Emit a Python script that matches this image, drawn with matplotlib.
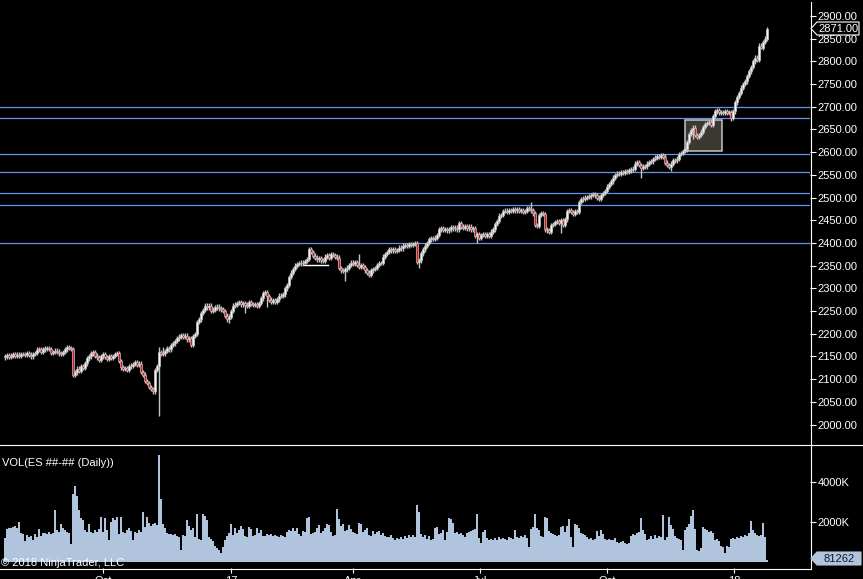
import numpy as np
import matplotlib
matplotlib.use('Agg')
import matplotlib.pyplot as plt
from matplotlib.patches import Rectangle, Polygon
from matplotlib.lines import Line2D

# Output size in pixels (figure is 100 dpi)
W, H = 863, 579
plt.rcParams['font.family'] = ['Liberation Sans', 'DejaVu Sans']

# Daily closes, one per bar (left to right)
closes = [
    # Aug - Sep 2016
    2150, 2153, 2149, 2152, 2155, 2151, 2154, 2152, 2156, 2155,
    2153, 2157, 2154, 2150, 2155, 2158, 2165, 2167, 2160, 2166,
    2168, 2169, 2167, 2158, 2160, 2163, 2161, 2157, 2155, 2160,
    2166, 2170, 2169, 2167, 2110,
    # Sep - Nov 2016
    2115, 2123, 2119, 2128, 2125, 2135, 2146, 2150, 2157, 2159,
    2152, 2148, 2142, 2150, 2155, 2149, 2145, 2150, 2147, 2151,
    2155, 2158, 2140, 2126, 2122, 2124, 2121, 2128, 2130, 2133,
    2137, 2132, 2134, 2116, 2110, 2096, 2092, 2083, 2078, 2073,
    # Nov 2016 - Jan 2017
    2120, 2128, 2160, 2155, 2157, 2162, 2168, 2166, 2175, 2179,
    2184, 2190, 2194, 2197, 2193, 2196, 2188, 2190, 2176, 2195,
    2200, 2226, 2232, 2246, 2252, 2262, 2258, 2262, 2250, 2253,
    2258, 2260, 2256, 2254, 2250, 2240, 2232, 2238, 2250,
    # Jan - Mar 2017
    2262, 2264, 2268, 2270, 2265, 2268, 2264, 2262, 2269, 2266,
    2263, 2265, 2261, 2268, 2278, 2290, 2292, 2283, 2275, 2271,
    2274, 2270, 2276, 2284, 2283, 2287, 2300, 2307, 2325, 2335,
    2343, 2350, 2354, 2355, 2357, 2356, 2360, 2365, 2387,
    # Mar - Apr 2017
    2380, 2372, 2368, 2364, 2367, 2362, 2360, 2370, 2373, 2368,
    2376, 2374, 2370, 2368, 2345, 2340, 2338, 2342, 2346, 2352,
    2357, 2354, 2358, 2352, 2348, 2352, 2347, 2340, 2335, 2330,
    2340, 2343, 2345, 2352, 2356, 2356, 2370, 2376, 2380, 2386,
    # May - Jun 2017
    2384, 2386, 2382, 2385, 2390, 2388, 2394, 2396, 2393, 2397,
    2396, 2398, 2400, 2358, 2362, 2377, 2386, 2394, 2400, 2408,
    2410, 2409, 2412, 2418, 2430, 2432, 2429, 2431, 2428, 2430,
    2435, 2432, 2434, 2430, 2444, 2436, 2433, 2437, 2432, 2436,
    # Jun - Aug 2017
    2430, 2433, 2415, 2420, 2411, 2418, 2420, 2416, 2419, 2415,
    2425, 2430, 2442, 2448, 2460, 2462, 2470, 2471, 2468, 2472,
    2470, 2474, 2472, 2475, 2470, 2473, 2468, 2470, 2476, 2475,
    2472, 2465, 2440, 2438, 2462, 2466, 2464, 2430, 2428, 2424,
    # Aug - Oct 2017
    2440, 2442, 2446, 2448, 2444, 2450, 2440, 2452, 2470, 2472,
    2468, 2464, 2470, 2468, 2490, 2496, 2498, 2500, 2501, 2503,
    2506, 2508, 2505, 2500, 2498, 2506, 2510, 2515, 2524, 2530,
    2536, 2544, 2550, 2553, 2552, 2556, 2555, 2558, 2556, 2560,
    # Oct - Dec 2017
    2562, 2564, 2575, 2578, 2572, 2566, 2568, 2569, 2575, 2578,
    2580, 2585, 2588, 2592, 2589, 2593, 2590, 2577, 2572, 2568,
    2575, 2583, 2582, 2586, 2596, 2598, 2603, 2606, 2622, 2640,
    2648, 2654, 2638, 2633, 2638, 2645, 2655, 2662, 2664, 2666,
    # Dec 2017 - Jan 2018
    2660, 2680, 2690, 2693, 2688, 2689, 2687, 2690, 2686, 2688,
    2676, 2690, 2710, 2722, 2730, 2742, 2750, 2756, 2768, 2778,
    2788, 2800, 2808, 2804, 2835, 2830, 2843, 2850, 2871,
]
first_open = 2148

# Daily volume in thousands of contracts
volumes_k = [
    1200, 1650, 1700, 1700, 1750, 1800, 1700, 2000, 1450, 1400,
    1050, 1350, 1250, 1300, 1100, 1400, 1250, 1650, 1300, 1450,
    1450, 1400, 1500, 1400, 1450, 2600, 1600, 1500, 1900, 1700,
    1600, 1500, 1450, 900, 3400, 3800, 3300, 2600, 2200, 2100,
    1600, 1500, 1900, 1500, 1450, 1600, 1500, 1650, 2250, 1500,
    2200, 1600, 1100, 2000, 2200, 2100, 2250, 1400, 2250, 1500,
    1450, 1600, 1700, 1550, 1100, 1500, 1450, 1600, 1500, 2500,
    1750, 2250, 1950, 1800, 1900, 1950, 1850, 5350, 3150, 1900,
    1700, 1450, 1400, 1400, 1350, 1400, 1300, 1250, 600, 1350,
    1300, 2100, 1800, 1600, 1700, 1250, 2400, 1150, 1100, 2400,
    2300, 2100, 1250, 1150, 1050, 800, 700, 600, 450, 750,
    1100, 1300, 1450, 1900, 1350, 1700, 1450, 1600, 1800, 1650,
    1300, 1250, 1750, 1650, 1300, 1350, 1700, 1450, 1600, 1300,
    1300, 1400, 1350, 1400, 1300, 1350, 1300, 1250, 1350, 1300,
    1250, 1500, 1600, 1550, 1700, 1550, 1700, 1400, 1300, 1550,
    1500, 2200, 2250, 1400, 1450, 1500, 1700, 1850, 1450, 1550,
    1700, 1900, 1850, 1500, 1300, 1350, 2650, 2150, 1800, 1900,
    1550, 1600, 1850, 1650, 1500, 1450, 1400, 1950, 1900, 1500,
    1600, 1700, 1350, 1300, 1550, 1400, 1500, 1550, 1350, 1450,
    1300, 1250, 1250, 1350, 1200, 1100, 1200, 1150, 1250, 1150,
    1300, 1200, 1350, 1250, 1350, 1250, 2850, 2500, 1400, 1250,
    1350, 1150, 1300, 1100, 1150, 1700, 1750, 1400, 1450, 1600,
    1100, 1500, 2200, 2150, 1950, 1450, 1500, 1400, 1450, 1350,
    1250, 1450, 1500, 1550, 1600, 1650, 2400, 1200, 950, 1500,
    1600, 1200, 1100, 1150, 1100, 1200, 1100, 1250, 1150, 1200,
    1150, 1100, 1250, 1200, 1150, 1600, 1250, 1200, 1300, 1250,
    1350, 1200, 750, 1650, 1750, 2400, 1700, 1600, 1300, 1250,
    2250, 2200, 1550, 1450, 1400, 1350, 1300, 1350, 1750, 1800,
    1500, 1800, 2150, 1250, 750, 1900, 1850, 1700, 1450, 1400,
    1350, 1250, 1150, 1200, 1100, 1150, 1550, 1300, 1600, 1400,
    1150, 1100, 1150, 1100, 1100, 1200, 1000, 950, 1000, 1050,
    950, 900, 950, 1300, 1400, 1350, 1450, 1500, 2200, 1600,
    1400, 1100, 1150, 1300, 1150, 1350, 1200, 1300, 1250, 2350,
    1100, 1250, 2250, 1850, 1650, 1300, 1200, 1150, 1100, 600,
    1600, 1750, 1900, 2300, 2600, 1650, 600, 550, 700, 1750,
    1650, 1600, 1500, 1550, 1450, 1100, 1150, 1050, 800, 750,
    450, 800, 750, 1150, 1200, 1150, 1250, 1200, 1300, 1250,
    1350, 1300, 1450, 2050, 1600, 1450, 1350, 1300, 1350, 1950,
    1250, 81.262,
]

# Long wicks visible on the chart (bar index -> price)
hi_marks = {77: 2172, 79: 2172, 177: 2375, 263: 2490}
lo_marks = {77: 2020, 112: 2223, 120: 2245, 131: 2258, 170: 2316, 207: 2344,
            236: 2401, 278: 2421, 318: 2543, 333: 2558, 344: 2629, 347: 2630,
            363: 2669, 378: 2827}

# Drawn objects
level_lines = [2700, 2675, 2597, 2557, 2511, 2483, 2401]
box_bars = (340, 358.5)
box_prices = (2602, 2671)
seg_bars = (149, 161.5)
seg_price = 2351

price_ticks = list(range(2000, 2901, 50))
vol_ticks = [2000, 4000]
vol_tick_labels = ['2000K', '4000K']
date_tick_bars = [49, 113, 174, 237.5, 301, 364.5]
date_tick_labels = ['Oct', '17', 'Apr', 'Jul', 'Oct', '18']
last_price = 2871.00
last_volume = 81262

WICK = 5  # points beyond the body when no longer wick was seen
PX_PER_PT = 408.6 / 900


def fx(px):
    return px / W


def fy(py):
    return 1 - py / H


def marker(y, x_tip, x_body, x_right, half, face, edge, text, tcolor):
    pts = [(fx(x_tip), fy(y)), (fx(x_body), fy(y - half)), (fx(x_right), fy(y - half)),
           (fx(x_right), fy(y + half)), (fx(x_body), fy(y + half))]
    fig.add_artist(Polygon(pts, closed=True, facecolor=face, edgecolor=edge,
                           linewidth=0.8, transform=fig.transFigure, zorder=10))
    fig.text(fx((x_body + x_right) / 2 + 0.5), fy(y), text, ha='center', va='center',
             color=tcolor, fontsize=8, zorder=11)


n = min(len(closes), len(volumes_k))
idx = np.arange(n)
c = np.array(closes[:n], dtype=float)
o = np.concatenate([[first_open], c[:-1]])  # each bar opens at previous close
hi = np.maximum(o, c) + WICK
lo = np.minimum(o, c) - WICK
for k, v in hi_marks.items():
    hi[k] = v
for k, v in lo_marks.items():
    lo[k] = v

fig = plt.figure(figsize=(W / 100, H / 100), dpi=100, facecolor='black')

# price panel
ax = fig.add_axes([0, fy(444), fx(810), 444 / H])
ax.set_facecolor('black')
ax.set_xlim(-2.5, 402.5)
ax.set_ylim(2900 - (444 - 16) / PX_PER_PT, 2900 + 16 / PX_PER_PT)

for lvl in level_lines:
    ax.axhline(lvl, color='#6492ee', lw=0.9, zorder=1)

ax.add_patch(Rectangle((box_bars[0], box_prices[0]), box_bars[1] - box_bars[0],
                       box_prices[1] - box_prices[0], facecolor='#3b3731',
                       edgecolor='#c4c4c4', lw=1.1, zorder=2))
ax.plot(seg_bars, [seg_price, seg_price], color='white', lw=1.0, zorder=2)

ax.vlines(idx, lo, hi, color='#c4c4c4', lw=1.0, zorder=3)
up = c >= o
body_h = np.maximum(np.abs(c - o), 2.0)
body_b = np.minimum(o, c) - np.where(np.abs(c - o) < 2.0, 1.0, 0.0)
ax.bar(idx, body_h, bottom=body_b, width=1.45,
       color=np.where(up, '#f6f6f6', '#e01212'),
       edgecolor='#c0c0c0', linewidth=0.5, zorder=4)

ax.yaxis.tick_right()
ax.set_yticks(price_ticks)
ax.set_yticklabels([f'{v:.2f}' for v in price_ticks])
ax.tick_params(axis='y', direction='out', length=4.3, width=0.8, colors='white',
               labelsize=8, pad=1.2)
ax.tick_params(axis='x', bottom=False, labelbottom=False)
for s in ax.spines.values():
    s.set_visible(False)

# volume panel
ax2 = fig.add_axes([0, fy(568), fx(810), 124 / H])
ax2.set_facecolor('black')
ax2.set_xlim(-2.5, 402.5)
ax2.set_ylim(-300, 5900)
ax2.bar(idx, volumes_k[:n], width=1.0, color='#b0c4de', linewidth=0, zorder=2)
ax2.yaxis.tick_right()
ax2.set_yticks(vol_ticks)
ax2.set_yticklabels(vol_tick_labels)
ax2.tick_params(axis='y', direction='out', length=4.3, width=0.8, colors='white',
                labelsize=8, pad=1.2)
ax2.set_xticks(date_tick_bars)
ax2.set_xticklabels(date_tick_labels)
ax2.tick_params(axis='x', direction='out', length=3.4, width=0.8, colors='white',
                labelsize=8, pad=2.4)
for s in ax2.spines.values():
    s.set_visible(False)

# frame lines in pixel positions
for (x0, y0, x1, y1) in [(810.5, 2, 810.5, 568.5), (0, 444.5, 863, 444.5),
                         (0, 568.5, 810.5, 568.5)]:
    fig.add_artist(Line2D([fx(x0), fx(x1)], [fy(y0), fy(y1)], color='white',
                          lw=0.8, transform=fig.transFigure, zorder=9))

fig.text(fx(2), fy(463), 'VOL(ES ##-## (Daily))', ha='left', va='center',
         color='white', fontsize=8)
fig.text(fx(1), fy(562.5), '\u00a9 2018 NinjaTrader, LLC', ha='left', va='center',
         color='white', fontsize=8, zorder=10)

marker(28.5, 811, 817, 859, 6.5, 'black', 'white', f'{last_price:.2f}', 'white')
marker(558.5, 811, 817, 861, 6.5, '#b0c4de', '#b0c4de', f'{last_volume}', '#101828')

fig.savefig('out.png', dpi=100, facecolor='black')
